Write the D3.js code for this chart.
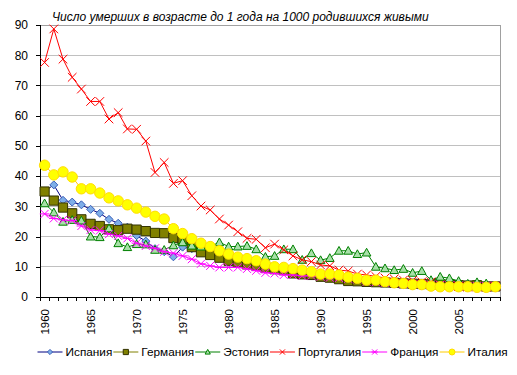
<!DOCTYPE html>
<html><head><meta charset="utf-8">
<script src="https://cdn.jsdelivr.net/npm/d3@7"></script>
<style>
body{margin:0;background:#fff;}
text{font-family:"Liberation Sans",Arial,sans-serif;fill:#000;}
</style></head>
<body><svg id="c" width="517" height="375"></svg>
<script>
const years = [1960,1961,1962,1963,1964,1965,1966,1967,1968,1969,1970,1971,1972,1973,1974,1975,1976,1977,1978,1979,
1980,1981,1982,1983,1984,1985,1986,1987,1988,1989,1990,1991,1992,1993,1994,1995,1996,1997,1998,1999,
2000,2001,2002,2003,2004,2005,2006,2007,2008,2009];
const yTicks = [0,10,20,30,40,50,60,70,80,90];
const xTickLabels = [1960,1965,1970,1975,1980,1985,1990,1995,2000,2005];
const seriesNames = ["Испания","Германия","Эстония","Португалия","Франция","Италия"];
const spain = [35.0,37.1,32.0,31.4,30.5,29.0,27.7,25.7,24.4,23.1,20.3,18.5,16.0,15.0,13.3,16.5,16.0,15.0,14.3,13.2,
12.3,11.8,11.0,10.5,9.8,9.2,8.9,8.2,7.9,7.6,7.2,7.0,6.8,6.3,5.9,5.5,5.3,5.0,4.8,4.6,
4.4,4.1,4.1,3.9,3.9,3.8,3.7,3.6,3.5,3.3];
const germany = [34.9,31.9,29.6,27.7,25.7,24.2,23.5,22.4,22.1,22.6,22.3,21.8,21.2,21.1,19.5,18.6,16.5,14.8,13.9,13.0,
12.0,11.5,10.8,10.4,9.7,9.2,8.9,7.8,7.5,7.3,6.7,6.4,5.9,5.3,5.2,5.0,4.9,4.8,4.7,4.5,
4.4,4.3,4.2,4.2,4.1,3.9,3.8,3.9,3.5,3.5];
const estonia = [31.0,28.0,24.9,25.5,25.3,20.0,19.8,22.7,17.8,16.5,17.5,17.4,15.6,15.6,17.1,18.1,17.0,16.7,16.7,18.1,
16.7,16.7,16.9,15.8,13.3,13.6,15.8,15.8,12.3,14.5,12.2,12.9,15.3,15.3,14.2,14.7,10.0,9.5,8.9,9.3,
8.0,8.6,5.6,6.7,6.2,5.3,4.4,4.9,4.5,3.6];
const portugal = [77.6,88.7,78.7,72.7,68.8,64.7,64.7,58.9,61.0,55.6,55.5,51.6,41.2,44.5,37.6,38.5,33.5,30.1,28.8,25.8,
23.8,21.6,19.4,19.1,16.3,17.5,15.6,13.6,12.3,11.7,10.6,10.3,8.9,8.6,7.6,7.3,6.8,6.3,6.0,5.6,
5.5,5.0,5.0,4.1,3.8,3.5,3.3,3.4,3.3,3.6];
const france = [27.5,26.0,25.5,25.3,23.5,22.2,22.0,20.8,20.2,19.4,17.8,16.9,16.1,15.0,14.5,13.6,12.5,11.0,10.3,9.8,
9.8,9.8,9.3,8.7,8.0,7.8,7.3,7.3,7.0,7.0,6.7,6.4,6.3,6.0,5.8,5.0,4.9,4.7,4.6,4.4,
4.4,4.2,4.1,4.0,3.8,3.8,3.7,3.6,3.6,3.7];
const italy = [43.6,40.4,41.4,39.7,35.8,35.8,34.4,32.8,31.8,30.5,29.4,28.1,26.7,25.8,22.6,21.0,19.3,17.8,16.7,15.3,
14.2,13.2,12.7,12.0,10.9,10.0,9.8,9.4,8.9,8.4,7.6,7.6,7.3,6.6,6.2,5.6,5.6,5.1,4.7,4.5,
4.1,4.1,3.6,3.4,3.4,3.4,3.4,3.2,3.2,3.4];
const titleText = "Число умерших в возрасте до 1 года на 1000 родившихся живыми";

const seriesValues = [spain, germany, estonia, portugal, france, italy];
const styles = [
  {line:"#000080", marker:"diamond", fill:"#7eaee8", stroke:"#3a5fb8"},
  {line:"#808000", marker:"square", fill:"#808000", stroke:"#333300"},
  {line:"#008000", marker:"triangle", fill:"#a8e0a8", stroke:"#008000"},
  {line:"#ff0000", marker:"x", fill:"none", stroke:"#ff0000"},
  {line:"#ff00ff", marker:"star", fill:"none", stroke:"#ff00ff"},
  {line:"#ffcc00", marker:"circle", fill:"#ffff00", stroke:"#ffdd00"}
];

const svg = d3.select("#c");
const L=40, R=500, T=25, B=297;
const x = d3.scaleBand().domain(years).range([L,R]);
const cx = d => x(d) + x.bandwidth()/2;
const y = d3.scaleLinear().domain([0,90]).range([B,T]);

// gridlines
svg.append("g").selectAll("line").data(yTicks.filter(d=>d>0)).join("line")
  .attr("x1",L).attr("x2",R).attr("y1",d=>y(d)).attr("y2",d=>y(d))
  .attr("stroke","#c0c0c0").attr("stroke-width",1).attr("shape-rendering","crispEdges");
// plot border (top/right gray)
svg.append("path").attr("d",`M${L},${T}H${R}V${B}`).attr("fill","none")
  .attr("stroke","#a0a0a0").attr("shape-rendering","crispEdges");

// y axis
const yAxis = d3.axisLeft(y).tickValues(yTicks).tickSize(4).tickPadding(8);
const gy = svg.append("g").attr("transform",`translate(${L},0)`).call(yAxis);
gy.select(".domain").attr("stroke","#000").attr("shape-rendering","crispEdges");
gy.selectAll(".tick line").attr("stroke","#000").attr("shape-rendering","crispEdges");
gy.selectAll("text").attr("font-size","12px").attr("font-family","Liberation Sans, Arial, sans-serif").attr("fill","#000");

// x axis: ticks at band boundaries
const gx = svg.append("g");
gx.append("line").attr("x1",L).attr("x2",R).attr("y1",B).attr("y2",B).attr("stroke","#000").attr("shape-rendering","crispEdges");
gx.selectAll("line.t").data(years.concat(["end"])).join("line").attr("class","t")
  .attr("x1",(d,i)=> i<years.length ? x(d) : R).attr("x2",(d,i)=> i<years.length ? x(d) : R)
  .attr("y1",B).attr("y2",B+4).attr("stroke","#000").attr("shape-rendering","crispEdges");
gx.selectAll("text").data(xTickLabels).join("text")
  .attr("transform",d=>`translate(${cx(d)+4},${B+12}) rotate(-90)`)
  .attr("text-anchor","end").attr("font-size","11.5px").text(d=>d);

// title
svg.append("text").attr("x",52).attr("y",21).attr("font-size","12px").attr("font-style","italic")
  .text(titleText);

function markerPath(type, s){
  const p = d3.path();
  if(type==="diamond"){ p.moveTo(0,-s);p.lineTo(s,0);p.lineTo(0,s);p.lineTo(-s,0);p.closePath(); }
  else if(type==="square"){ p.rect(-s,-s,2*s,2*s); }
  else if(type==="triangle"){ p.moveTo(0,-s);p.lineTo(s,s*0.8);p.lineTo(-s,s*0.8);p.closePath(); }
  else if(type==="x"){ p.moveTo(-s,-s);p.lineTo(s,s);p.moveTo(s,-s);p.lineTo(-s,s); }
  else if(type==="star"){ p.moveTo(-s,-s);p.lineTo(s,s);p.moveTo(s,-s);p.lineTo(-s,s);p.moveTo(-s*1.2,0);p.lineTo(s*1.2,0); }
  else if(type==="circle"){ p.arc(0,0,s,0,2*Math.PI); }
  return p.toString();
}
const sizes = {diamond:4.0, square:4.6, triangle:4.3, x:4.3, star:4.0, circle:5.2};

const line = d3.line().x((d,i)=>cx(years[i])).y(d=>y(d));
seriesValues.forEach((vals,k)=>{
  const st = styles[k];
  const g = svg.append("g");
  g.append("path").attr("d",line(vals)).attr("fill","none").attr("stroke",st.line).attr("stroke-width",1);
  g.selectAll("path.m").data(vals).join("path").attr("class","m")
    .attr("transform",(d,i)=>`translate(${cx(years[i])},${y(d)})`)
    .attr("d",markerPath(st.marker,sizes[st.marker]))
    .attr("fill",st.fill).attr("stroke",st.stroke).attr("stroke-width",1);
});

// legend
const lg = svg.append("g");
let lx = 37.5; const ly = 352;
seriesNames.forEach((name,k)=>{
  const st = styles[k];
  lg.append("line").attr("x1",lx).attr("x2",lx+25).attr("y1",ly).attr("y2",ly).attr("stroke",st.line);
  lg.append("path").attr("transform",`translate(${lx+12.5},${ly})`)
    .attr("d",markerPath(st.marker,st.marker==="circle"?3:2.6)).attr("fill",st.fill).attr("stroke",st.stroke);
  const t = lg.append("text").attr("x",lx+28).attr("y",ly+4).attr("font-size","11.8px").text(name);
  lx += 28 + t.node().getComputedTextLength() + 1;
});
</script></body></html>
